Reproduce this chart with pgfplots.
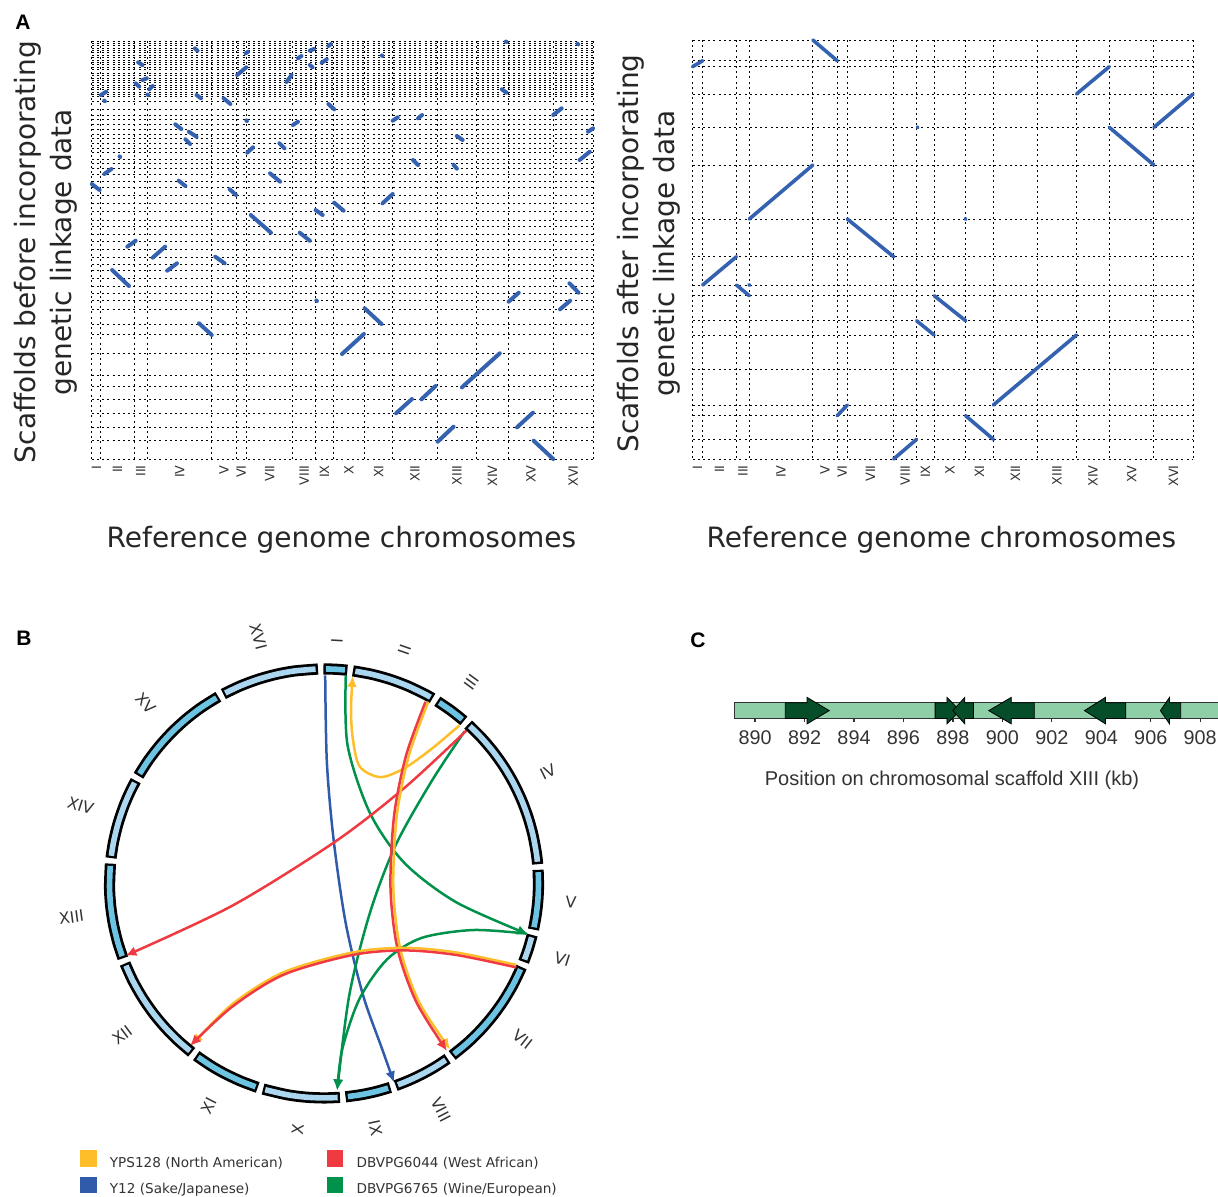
\documentclass[border=0pt]{standalone}
\usepackage{pgfplots}
\pgfplotsset{compat=1.18}
\usetikzlibrary{arrows.meta}
\usepackage{fontspec}
\setmainfont{DejaVu Sans}
\newfontfamily\arial{Liberation Sans}
\definecolor{dotblue}{HTML}{3461B0}
\definecolor{ylw}{HTML}{FDBE2A}
\definecolor{rd}{HTML}{EE3A40}
\definecolor{blu}{HTML}{2F5BAA}
\definecolor{grn}{HTML}{00914B}
\definecolor{ringdark}{HTML}{6CC3E2}
\definecolor{ringlight}{HTML}{AAD6EF}
\definecolor{genelight}{HTML}{8ECFA8}
\definecolor{genedark}{HTML}{064E29}
\definecolor{txt}{HTML}{333333}
\pgfplotsset{
  dotplot/.style={scale only axis, axis line style={draw=none}, xmin=0, ymin=0, y dir=reverse,
    yticklabels={}, major tick length=0pt, minor tick length=0pt, xminorgrids=true, ymajorgrids=true,
    minor grid style={black, line width=0.5pt, dash pattern=on 1pt off 1.6pt},
    major grid style={black, line width=0.5pt, dash pattern=on 1pt off 1.6pt},
    xticklabel pos=lower,
    xticklabel style={rotate=90, anchor=east, font=\fontsize{6.4}{7}\selectfont, text=txt, inner sep=3pt},
    clip=false, unbounded coords=jump},
  ringblack/.style={black, line width=5.6pt, smooth, data cs=polar, forget plot},
  ringfill/.style={#1, line width=2.8pt, smooth, data cs=polar, forget plot},
  link/.style={#1, line width=1.25pt, smooth, -{Latex[length=5.5pt,width=5pt]}, forget plot}
}
\begin{document}
\begin{tikzpicture}
\useasboundingbox (0,0) rectangle (609pt,-598pt);

% ---------------- Panel A left ----------------
\begin{axis}[dotplot, at={(45.9pt,-229.5pt)}, anchor=south west, width=250.65pt, height=209pt,
  xmax=494.33, ymax=418,
  xtick={4.5,25.33,48.33,86.67,130.33,147.33,175.33,209.5,229.5,253.67,282.83,318.67,360,395.17,433,474.67},
  xticklabels={I,II,III,IV,V,VI,VII,VIII,IX,X,XI,XII,XIII,XIV,XV,XVI},
  minor xtick={0,9,41.67,55,118.33,142.33,152.33,198.33,220.67,238.33,269,296.67,340.67,379.33,411,455,494.33},
  ytick={0,2.3,4.7,7,9.3,11.7,14,16.3,19,21.3,23.7,26,28.3,32.3,34.7,37,39.3,41.7,44,46.3,48.7,51,53.3,55.7,60.7,68.3,74,78.3,83.3,88.3,93,97.3,102.3,107.3,111.7,118.3,122.3,127.3,133,140.7,146.3,154,162.3,170.7,179.7,185.7,193,200,208.3,216.7,223.3,229,237.3,245,252.3,259.7,268.3,283.3,293,312.3,334,345.7,358.3,372.3,386.3,399.7,418}]
\addplot[dotblue, line width=2pt, line cap=round] coordinates {
(101.7,7.3) (104.3,9.7) (nan,nan)
(45.7,21.3) (50,24) (nan,nan)
(43.3,42.3) (46.7,45.7) (nan,nan)
(50,39) (54.3,37.3) (nan,nan)
(56.7,48.3) (60,45) (nan,nan)
(55,53.5) (55.6,54.2) (nan,nan)
(9,54) (14.3,50.7) (nan,nan)
(12.3,59.6) (12.9,60.2) (nan,nan)
(103.3,54) (107.7,57.3) (nan,nan)
(130,57.3) (136.7,63) (nan,nan)
(143.3,34) (152.3,26.3) (nan,nan)
(151.7,12.3) (154,10.7) (nan,nan)
(203.3,17.3) (206.7,15) (nan,nan)
(215,9.7) (219,8) (nan,nan)
(215,24) (217.7,26.3) (nan,nan)
(226.7,21.7) (231.7,18.3) (nan,nan)
(233.3,5) (235.7,3) (nan,nan)
(192,41) (197,34) (nan,nan)
(286,14.4) (286.6,15) (nan,nan)
(408.3,0.5) (409,1) (nan,nan)
(479,2.7) (479.6,3.3) (nan,nan)
(404.3,48.3) (409,51.7) (nan,nan)
(233.3,63) (239,68.3) (nan,nan)
(296.7,79.7) (301.7,76.3) (nan,nan)
(321.7,77.3) (325.7,74) (nan,nan)
(455,74) (463.3,67.3) (nan,nan)
(489.3,90.7) (494.3,87.3) (nan,nan)
(82.3,83.3) (88.3,88) (nan,nan)
(95.7,90.7) (103.3,95.7) (nan,nan)
(92.3,98.3) (97,103) (nan,nan)
(198.3,84) (203.3,80.7) (nan,nan)
(152.4,79.4) (153,80) (nan,nan)
(185,102.3) (190,107.3) (nan,nan)
(153.3,111.7) (159,106.3) (nan,nan)
(360,95) (365.7,99) (nan,nan)
(481,119) (491,110.7) (nan,nan)
(27.4,115.4) (28,116) (nan,nan)
(12.3,133) (19.3,128) (nan,nan)
(0,143) (7.7,149) (nan,nan)
(85.7,139.7) (92.3,145) (nan,nan)
(136,148.3) (142.3,154) (nan,nan)
(175.7,132.3) (185.7,140.7) (nan,nan)
(316.7,119) (321.7,124) (nan,nan)
(356.7,123.7) (360,127.7) (nan,nan)
(286.7,162.3) (296.7,153) (nan,nan)
(239,161.7) (248.3,169.7) (nan,nan)
(220.7,169) (227.7,174) (nan,nan)
(156.7,174) (176.7,191.7) (nan,nan)
(205,191.7) (215,199.7) (nan,nan)
(35,205.7) (43.3,199.7) (nan,nan)
(60,216.7) (72.3,205.7) (nan,nan)
(74.3,229.7) (84,222.3) (nan,nan)
(121.7,215.7) (131,222.3) (nan,nan)
(20,229) (36.7,245) (nan,nan)
(221.4,259.4) (222,260) (nan,nan)
(411,260.7) (421,251.7) (nan,nan)
(471,242.3) (480,251.7) (nan,nan)
(461.7,268.3) (471.7,259.7) (nan,nan)
(269,267.3) (285.7,283) (nan,nan)
(105.7,282.3) (118.3,294) (nan,nan)
(246.7,313) (268.3,293) (nan,nan)
(365,346.3) (402.3,312.3) (nan,nan)
(300,372.3) (315.7,358) (nan,nan)
(325,358.3) (339,345) (nan,nan)
(419.3,386.3) (435,371.7) (nan,nan)
(341,400.7) (356.7,385.7) (nan,nan)
(435.7,399.7) (455,418)
};
\end{axis}

% ---------------- Panel A right ----------------
\begin{axis}[dotplot, at={(346.25pt,-229.5pt)}, anchor=south west, width=250.3pt, height=209.5pt,
  xmax=493.67, ymax=419,
  xtick={5,26.67,49.67,87.33,130.67,147.67,175.5,209.67,229.67,253.83,283,318.5,359.5,394.83,433,474.33},
  xticklabels={I,II,III,IV,V,VI,VII,VIII,IX,X,XI,XII,XIII,XIV,XV,XVI},
  minor xtick={0,10,43.33,56,118.67,142.67,152.67,198.33,221,238.33,269.33,296.67,340.33,378.67,411,455,493.67},
  ytick={0,20.7,26.7,54,87.3,125,179,216.7,245,255.7,280.7,295,329,365,375.7,399.3,419}]
\addplot[dotblue, line width=1.8pt, line cap=round] coordinates {
(0,26.7) (10,20.7) (nan,nan)
(118.67,0) (142.67,20.7) (nan,nan)
(378.67,54) (411,26.7) (nan,nan)
(455,87.3) (493.67,54) (nan,nan)
(411,87.3) (455,125) (nan,nan)
(221.7,87) (222.3,87.6) (nan,nan)
(56,179) (118.67,125) (nan,nan)
(152.67,179) (198.33,216.7) (nan,nan)
(269,178.7) (269.6,179.3) (nan,nan)
(10,245) (43.33,216.7) (nan,nan)
(43.33,245) (56,255.7) (nan,nan)
(55.7,244.7) (56.3,245.3) (nan,nan)
(238.33,255.7) (269.33,280.7) (nan,nan)
(221,280.7) (238.33,295) (nan,nan)
(296.67,365) (378.67,295) (nan,nan)
(142.67,375.7) (152.67,365) (nan,nan)
(269.33,375.7) (296.67,399.3) (nan,nan)
(198.33,419) (221,399.3)
};
\end{axis}

% ---------------- Panel B circos ----------------
\begin{axis}[at={(162pt,-441.7pt)}, anchor=center, x=0.5pt, y=0.5pt,
  xmin=-262, xmax=262, ymin=-262, ymax=262, hide axis, clip=false,
  legend columns=2,
  legend cell align=left,
  legend style={at={(0.0344,-0.0088)}, anchor=north west, draw=none, fill=none, inner sep=0pt,
    row sep=3.4pt, font=\fontsize{6.8}{8}\selectfont, text=txt,
    cells={anchor=west},
    nodes={inner sep=0pt, text height=5pt, text depth=1.3pt},
    /tikz/every odd column/.style={column sep=6.75pt},
    /tikz/every even column/.style={column sep=22pt}}]
% ring: black outlines
\addplot[ringblack] coordinates {(90.15,214.5) (87,214.5) (83.75,214.5)};
\addplot[ringblack] coordinates {(82.25,214.5) (77,214.5) (72,214.5) (67,214.5) (62,214.5) (59.62,214.5)};
\addplot[ringblack] coordinates {(58.12,214.5) (53.7,214.5) (49.29,214.5)};
\addplot[ringblack] coordinates {(47.79,214.5) (43,214.5) (38,214.5) (33,214.5) (28,214.5) (23,214.5) (18,214.5) (13,214.5) (8,214.5) (5.14,214.5)};
\addplot[ringblack] coordinates {(3.64,214.5) (-0.5,214.5) (-4.5,214.5) (-8.5,214.5) (-12.42,214.5)};
\addplot[ringblack] coordinates {(-13.92,214.5) (-17.7,214.5) (-21.44,214.5)};
\addplot[ringblack] coordinates {(-22.94,214.5) (-28,214.5) (-33,214.5) (-38,214.5) (-43,214.5) (-48,214.5) (-53.31,214.5)};
\addplot[ringblack] coordinates {(-54.81,214.5) (-59,214.5) (-63,214.5) (-67,214.5) (-70.48,214.5)};
\addplot[ringblack] coordinates {(-71.98,214.5) (-76,214.5) (-80,214.5) (-84.23,214.5)};
\addplot[ringblack] coordinates {(-85.73,214.5) (-90,214.5) (-95,214.5) (-100,214.5) (-106.5,214.5)};
\addplot[ringblack] coordinates {(-108,214.5) (-113,214.5) (-118,214.5) (-122,214.5) (-126.57,214.5)};
\addplot[ringblack] coordinates {(-128.07,214.5) (-133,214.5) (-138,214.5) (-143,214.5) (-148,214.5) (-153,214.5) (-158.08,214.5)};
\addplot[ringblack] coordinates {(-159.58,214.5) (-164,214.5) (-169,214.5) (-174,214.5) (-179,214.5) (-185.3,214.5)};
\addplot[ringblack] coordinates {(-186.8,214.5) (-191,214.5) (-196,214.5) (-201,214.5) (-205,214.5) (-208.63,214.5)};
\addplot[ringblack] coordinates {(-210.13,214.5) (-215,214.5) (-220,214.5) (-225,214.5) (-230,214.5) (-235,214.5) (-240.5,214.5)};
\addplot[ringblack] coordinates {(-242,214.5) (-247,214.5) (-252,214.5) (-257,214.5) (-262,214.5) (-268.39,214.5)};
% ring: fills
\addplot[ringfill=ringdark] coordinates {(89.5,214.5) (87,214.5) (84.4,214.5)};
\addplot[ringfill=ringlight] coordinates {(81.6,214.5) (77,214.5) (72,214.5) (67,214.5) (62,214.5) (60.25,214.5)};
\addplot[ringfill=ringdark] coordinates {(57.5,214.5) (53.7,214.5) (49.9,214.5)};
\addplot[ringfill=ringlight] coordinates {(47.15,214.5) (43,214.5) (38,214.5) (33,214.5) (28,214.5) (23,214.5) (18,214.5) (13,214.5) (8,214.5) (5.8,214.5)};
\addplot[ringfill=ringdark] coordinates {(3,214.5) (-0.5,214.5) (-4.5,214.5) (-8.5,214.5) (-11.8,214.5)};
\addplot[ringfill=ringlight] coordinates {(-14.55,214.5) (-17.7,214.5) (-20.8,214.5)};
\addplot[ringfill=ringdark] coordinates {(-23.6,214.5) (-28,214.5) (-33,214.5) (-38,214.5) (-43,214.5) (-48,214.5) (-52.7,214.5)};
\addplot[ringfill=ringlight] coordinates {(-55.45,214.5) (-59,214.5) (-63,214.5) (-67,214.5) (-69.85,214.5)};
\addplot[ringfill=ringdark] coordinates {(-72.6,214.5) (-76,214.5) (-80,214.5) (-83.6,214.5)};
\addplot[ringfill=ringlight] coordinates {(-86.35,214.5) (-90,214.5) (-95,214.5) (-100,214.5) (-105.9,214.5)};
\addplot[ringfill=ringdark] coordinates {(-108.6,214.5) (-113,214.5) (-118,214.5) (-122,214.5) (-125.95,214.5)};
\addplot[ringfill=ringlight] coordinates {(-128.7,214.5) (-133,214.5) (-138,214.5) (-143,214.5) (-148,214.5) (-153,214.5) (-157.45,214.5)};
\addplot[ringfill=ringdark] coordinates {(-160.2,214.5) (-164,214.5) (-169,214.5) (-174,214.5) (-179,214.5) (-184.7,214.5)};
\addplot[ringfill=ringlight] coordinates {(-187.4,214.5) (-191,214.5) (-196,214.5) (-201,214.5) (-205,214.5) (-208,214.5)};
\addplot[ringfill=ringdark] coordinates {(-210.75,214.5) (-215,214.5) (-220,214.5) (-225,214.5) (-230,214.5) (-235,214.5) (-239.9,214.5)};
\addplot[ringfill=ringlight] coordinates {(-242.6,214.5) (-247,214.5) (-252,214.5) (-257,214.5) (-262,214.5) (-267.75,214.5)};
% links
\addplot[link=blu] coordinates {(1.2,208) (2.9,120.5) (9.8,42) (21.8,-40.2) (39,-111.6) (58,-165.2) (70,-199)};
\addplot[link=grn] coordinates {(21.8,208) (23.5,138.4) (45.9,70.5) (80.4,20.5) (132,-18.7) (204.3,-50.9)};
\addplot[link=grn] coordinates {(140.5,152) (107.9,102.7) (71.7,38.4) (45.9,-29.5) (25.3,-111.6) (13.2,-207)};
\addplot[link=grn] coordinates {(202.6,-50.2) (149.2,-46.6) (97.6,-54.5) (63.1,-75.9) (35.6,-115.2) (18.4,-165.2) (13.2,-207)};
\addplot[link=ylw] coordinates {(135.4,158) (107.9,134.8) (80.4,115.2) (56.2,106.3) (35.6,117) (28.7,145.5) (27,174.1) (28.7,207.5)};
\addplot[link=rd] coordinates {(142.3,152.7) (80.4,95.5) (11.5,42) (-91.8,-22.3) (-198.6,-72.3)};
\addplot[link=ylw] coordinates {(104.3,181.7) (84.8,127.7) (72.7,67) (69.3,-4.5) (76.2,-65.2) (95.1,-118.7) (126.1,-166)};
\addplot[link=rd] coordinates {(101.5,181.7) (82,127.7) (70,67) (66.5,-4.5) (73.5,-65.2) (92.5,-119) (123,-167.5)};
\addplot[link=ylw] coordinates {(192.3,-81.5) (132,-69) (80.4,-64.4) (28.7,-69) (-40.2,-88.7) (-91.8,-120.8) (-132,-161.5)};
\addplot[link=rd] coordinates {(192.3,-84) (132,-71.5) (80.4,-67) (28.7,-71.5) (-40.2,-91.2) (-91.8,-123.3) (-134,-162.5)};
% legend
\addlegendimage{legend image code/.code={\fill[ylw] (0pt,-1.2pt) rectangle (7.6pt,6.4pt);}}
\addlegendentry{YPS128 (North American)}
\addlegendimage{legend image code/.code={\fill[rd] (0pt,-1.2pt) rectangle (7.6pt,6.4pt);}}
\addlegendentry{DBVPG6044 (West African)}
\addlegendimage{legend image code/.code={\fill[blu] (0pt,-1.2pt) rectangle (7.6pt,6.4pt);}}
\addlegendentry{Y12 (Sake/Japanese)}
\addlegendimage{legend image code/.code={\fill[grn] (0pt,-1.2pt) rectangle (7.6pt,6.4pt);}}
\addlegendentry{DBVPG6765 (Wine/European)}
% chromosome labels
\begin{scope}[every node/.style={font=\fontsize{7.9}{9}\selectfont, text=txt, inner sep=0pt}]
\path (axis cs:0,0) ++(86.95:120pt) node[rotate=86.95, anchor=west] {I};
\path (axis cs:0,0) ++(70.93:121pt) node[rotate=70.93, anchor=west] {II};
\path (axis cs:0,0) ++(53.7:121pt) node[rotate=53.7, anchor=west] {III};
\path (axis cs:0,0) ++(26.46:121pt) node[rotate=26.46, anchor=west] {IV};
\path (axis cs:0,0) ++(-4.39:121pt) node[rotate=-4.39, anchor=west] {V};
\path (axis cs:0,0) ++(-17.68:121pt) node[rotate=-17.68, anchor=west] {VI};
\path (axis cs:0,0) ++(-38.13:121pt) node[rotate=-38.13, anchor=west] {VII};
\path (axis cs:0,0) ++(-62.65:121pt) node[rotate=-62.65, anchor=west] {VIII};
\path (axis cs:0,0) ++(-78.1:121pt) node[rotate=-78.1, anchor=west] {IX};
\path (axis cs:0,0) ++(-96.1:121pt) node[rotate=83.9, anchor=east] {X};
\path (axis cs:0,0) ++(-117.3:121pt) node[rotate=62.7, anchor=east] {XI};
\path (axis cs:0,0) ++(-143.1:121pt) node[rotate=36.9, anchor=east] {XII};
\path (axis cs:0,0) ++(-172.4:121pt) node[rotate=7.6, anchor=east] {XIII};
\path (axis cs:0,0) ++(-197.7:121pt) node[rotate=-17.7, anchor=east] {XIV};
\path (axis cs:0,0) ++(-225.3:121pt) node[rotate=-45.3, anchor=east] {XV};
\path (axis cs:0,0) ++(-255.2:121pt) node[rotate=-75.2, anchor=east] {XVI};
\end{scope}
\end{axis}

% ---------------- Panel C ----------------
\begin{axis}[at={(367.4pt,-359.2pt)}, anchor=south west, scale only axis, width=241.6pt, height=7.8pt,
  xmin=889.18, xmax=908.72, ymin=0, ymax=1, clip=false,
  axis y line=none, axis x line*=bottom, x axis line style={-, draw=none},
  xtick={890,892,...,908}, xtick align=outside, major tick length=1.8pt,
  tick style={txt, line width=0.6pt},
  /pgf/number format/assume math mode=true,
  xticklabel style={font=\arial\fontsize{9.9}{11}\selectfont, text=txt, yshift=-1pt}]
\addplot[fill=genelight, draw=txt, line width=0.6pt] coordinates {(889.18,0) (911,0) (911,1) (889.18,1)} --cycle;
\addplot[fill=genedark, draw=black, line width=0.4pt] coordinates {(891.22,0) (892.1,0) (892.1,-0.35) (893.0,0.5) (892.1,1.35) (892.1,1) (891.22,1)} --cycle;
\addplot[fill=genedark, draw=black, line width=0.4pt] coordinates {(897.28,0) (897.76,0) (897.76,-0.35) (898.28,0.5) (897.76,1.35) (897.76,1) (897.28,1)} --cycle;
\addplot[fill=genedark, draw=black, line width=0.4pt] coordinates {(898.83,0) (898.48,0) (898.48,-0.35) (898.0,0.5) (898.48,1.35) (898.48,1) (898.83,1)} --cycle;
\addplot[fill=genedark, draw=black, line width=0.4pt] coordinates {(901.29,0) (900.36,0) (900.36,-0.35) (899.45,0.5) (900.36,1.35) (900.36,1) (901.29,1)} --cycle;
\addplot[fill=genedark, draw=black, line width=0.4pt] coordinates {(904.99,0) (904.17,0) (904.17,-0.35) (903.32,0.5) (904.17,1.35) (904.17,1) (904.99,1)} --cycle;
\addplot[fill=genedark, draw=black, line width=0.4pt] coordinates {(907.21,0) (906.76,0) (906.76,-0.35) (906.39,0.5) (906.76,1.35) (906.76,1) (907.21,1)} --cycle;
\end{axis}

% ---------------- texts ----------------
\node[font=\fontsize{14}{18}\selectfont, text=black!85, anchor=base] at (170.75pt,-273.5pt) {Reference genome chromosomes};
\node[font=\fontsize{14}{18}\selectfont, text=black!85, anchor=base] at (470.75pt,-273.5pt) {Reference genome chromosomes};
\node[font=\fontsize{14}{18}\selectfont, text=black!85, rotate=90, align=center] at (23pt,-126pt) {Scaffolds before incorporating\\genetic linkage data};
\node[font=\fontsize{14}{18}\selectfont, text=black!85, rotate=90, align=center] at (324.4pt,-126.75pt) {Scaffolds after incorporating\\genetic linkage data};
\node[font=\arial\fontsize{10}{12}\selectfont, text=txt, anchor=base] at (476pt,-392.5pt) {Position on chromosomal scaffold XIII (kb)};
\node[font=\arial\bfseries\fontsize{10.5}{12}\selectfont] at (11.5pt,-11pt) {A};
\node[font=\arial\bfseries\fontsize{10.5}{12}\selectfont] at (12pt,-319pt) {B};
\node[font=\arial\bfseries\fontsize{10.5}{12}\selectfont] at (349pt,-320pt) {C};
\end{tikzpicture}
\end{document}
